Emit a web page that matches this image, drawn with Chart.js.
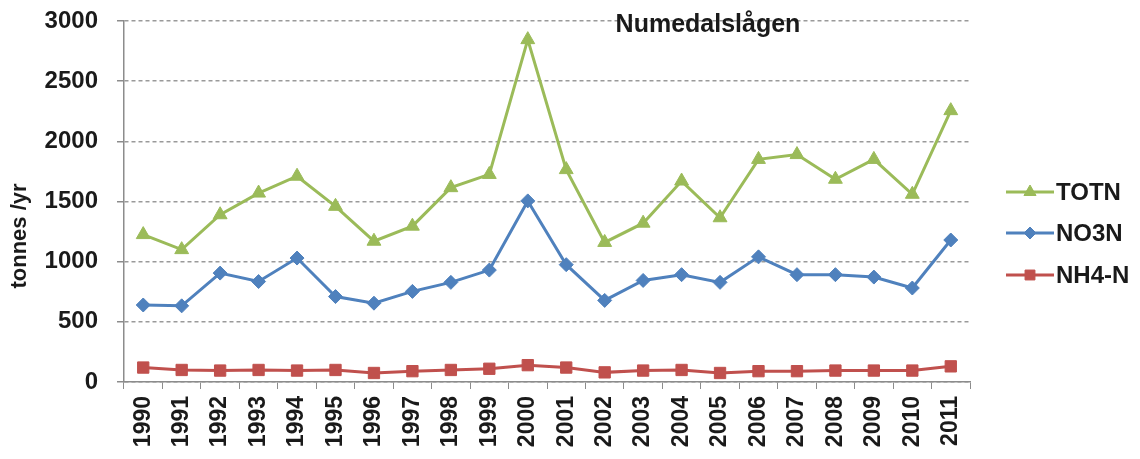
<!DOCTYPE html>
<html>
<head>
<meta charset="utf-8">
<script src="https://cdn.jsdelivr.net/npm/chart.js@4.4.0/dist/chart.umd.min.js"></script>
<style>
  html, body { margin: 0; padding: 0; background: #fff; }
  #wrap { width: 1140px; height: 459px; position: relative; }
</style>
</head>
<body>
<div id="wrap"><canvas id="nitrogenChart" width="1140" height="459"></canvas></div>
<script>
// Data
const years = ['1990', '1991', '1992', '1993', '1994', '1995', '1996', '1997', '1998', '1999', '2000',
               '2001', '2002', '2003', '2004', '2005', '2006', '2007', '2008', '2009', '2010', '2011'];
const totn = [1225, 1100, 1390, 1570, 1710, 1460, 1170, 1295, 1615, 1725, 2845,
              1765, 1160, 1320, 1670, 1365, 1850, 1890, 1685, 1850, 1560, 2255];
const no3n = [640, 633, 905, 835, 1030, 710, 655, 753, 828, 930, 1505,
              975, 678, 844, 892, 828, 1040, 892, 892, 872, 781, 1180];
const nh4n = [120, 100, 95, 100, 95, 100, 75, 90, 100, 110, 140,
              120, 80, 95, 100, 75, 90, 90, 95, 95, 95, 130];
const yTicks = [0, 500, 1000, 1500, 2000, 2500, 3000];

const chartTitle = 'Numedalslågen';
const yTitle = 'tonnes /yr';

const FONT = '"Liberation Sans", Arial, sans-serif';

// Draws the in-plot title, the rotated y-axis title and the right-hand legend
const decorations = {
  id: 'decorations',
  afterDraw(chart) {
    const ctx = chart.ctx;
    const area = chart.chartArea;
    ctx.save();
    ctx.fillStyle = '#1a1a1a';

    // title inside the plot area
    ctx.font = 'bold 25px ' + FONT;
    ctx.textAlign = 'center';
    ctx.textBaseline = 'middle';
    ctx.fillText(chartTitle, 708, 25);

    // y axis title
    ctx.save();
    ctx.translate(20, 236);
    ctx.rotate(-Math.PI / 2);
    ctx.font = 'bold 22px ' + FONT;
    ctx.fillText(yTitle, 0, 0);
    ctx.restore();

    // legend: line with marker, then label
    const rows = [192, 233, 275];
    chart.data.datasets.forEach((ds, i) => {
      const y = rows[i];
      const x0 = area.right + 36, x1 = x0 + 48;
      ctx.strokeStyle = ds.borderColor;
      ctx.lineWidth = 3;
      ctx.beginPath();
      ctx.moveTo(x0, y);
      ctx.lineTo(x1, y);
      ctx.stroke();
      ctx.fillStyle = ds.pointBackgroundColor;
      ctx.strokeStyle = ds.pointBorderColor;
      ctx.lineWidth = 1;
      Chart.helpers.drawPoint(ctx, {
        pointStyle: ds.pointStyle,
        radius: ds.pointRadius - 1,
        borderWidth: 1
      }, (x0 + x1) / 2, y);
      ctx.fillStyle = '#1a1a1a';
      ctx.font = 'bold 24px ' + FONT;
      ctx.textAlign = 'left';
      ctx.fillText(ds.label, x1 + 2, y + 1);
    });
    ctx.restore();
  }
};

function makeSeries(label, data, color, style, radius) {
  return {
    label: label,
    data: data,
    borderColor: color,
    backgroundColor: color,
    pointBackgroundColor: color,
    pointBorderColor: color,
    pointStyle: style,
    pointRadius: radius,
    pointBorderWidth: 1,
    borderWidth: 3,
    tension: 0
  };
}

const ctx = document.getElementById('nitrogenChart').getContext('2d');
new Chart(ctx, {
  type: 'line',
  data: {
    labels: years,
    datasets: [
      makeSeries('TOTN', totn, '#9bbb59', 'triangle', 8),
      makeSeries('NO3N', no3n, '#4f81bd', 'rectRot', 7),
      makeSeries('NH4-N', nh4n, '#c0504d', 'rect', 8)
    ]
  },
  options: {
    responsive: false,
    animation: false,
    layout: { padding: { top: 21, right: 170, left: 0, bottom: 0 } },
    plugins: {
      legend: { display: false },
      tooltip: { enabled: false }
    },
    scales: {
      x: {
        offset: true,
        afterFit: (scale) => {
          scale.height = 77;
          scale.paddingLeft = 0;
          scale.paddingRight = 0;
          scale.paddingTop = 0;
        },
        grid: {
          offset: true,
          drawOnChartArea: false,
          drawTicks: true,
          tickLength: 7,
          color: '#8c8c8c'
        },
        border: { display: true, color: '#8c8c8c', width: 1.5 },
        ticks: {
          minRotation: 90,
          maxRotation: 90,
          padding: 7,
          color: '#1a1a1a',
          font: { family: FONT, size: 23, weight: 'bold' }
        }
      },
      y: {
        min: 0,
        max: 3000,
        afterFit: (scale) => {
          scale.width = 124;
          scale.paddingTop = 0;
          scale.paddingBottom = 0;
        },
        afterBuildTicks: (scale) => { scale.ticks = yTicks.map(v => ({ value: v })); },
        grid: {
          color: '#9a9a9a',
          lineWidth: 1.5,
          drawTicks: true,
          tickLength: 7,
          tickBorderDash: [],
          tickColor: '#8c8c8c'
        },
        border: { display: true, color: '#8c8c8c', width: 1.5, dash: [4, 3] },
        ticks: {
          padding: 19,
          color: '#1a1a1a',
          font: { family: FONT, size: 24, weight: 'bold' },
          callback: (v) => String(v)
        }
      }
    }
  },
  plugins: [decorations]
});
</script>
</body>
</html>
